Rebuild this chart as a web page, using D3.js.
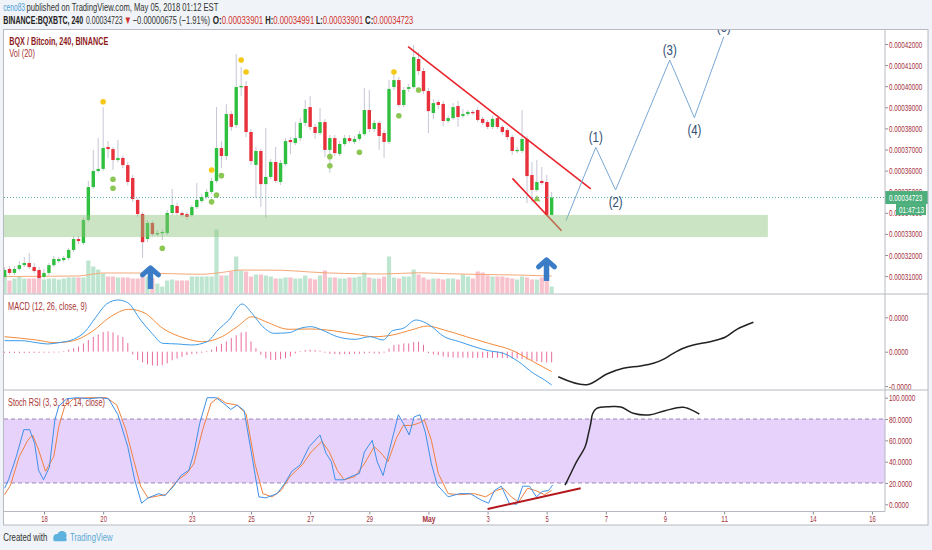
<!DOCTYPE html>
<html>
<head>
<meta charset="utf-8">
<script src="https://cdn.jsdelivr.net/npm/d3@7"></script>
<style>
  body { margin: 0; background: #f0f3f7; overflow: hidden; }
  svg { display: block; font-family: "Liberation Sans", Arial, sans-serif; }
</style>
</head>
<body>
<div id="chart"></div>
<script>
// ---- data (prices in satoshi, 1e-8 BTC) ----
const firstCandle = Date.UTC(2018, 3, 16, 16);   // 4h candles from here
const H4 = 4 * 3600e3;

// [open, high, low, close]
const candles = [
  [30960,31430,30860,31290],[31340,31480,31050,31150],[31150,31480,31050,31340],[31340,31700,31250,31520],
  [31520,31900,31430,31620],[31620,32090,31340,31430],[31430,31620,31150,31240],[31290,31430,30820,30910],
  [30960,31330,30870,31150],[31150,31620,31050,31520],[31520,31950,31430,31810],[31710,31900,31620,31810],
  [31760,31950,31670,31860],[31860,32330,31760,32240],[32240,32900,32140,32760],[32760,32900,32520,32660],
  [32570,33800,32470,33660],[33660,35510,33560,35220],[35220,36980,35130,35980],[35980,37540,35890,36080],
  [36080,39010,35980,37070],[37120,37400,36600,37020],[37020,37120,36030,36500],[36500,37450,36400,36600],
  [36600,36700,36120,36260],[36260,36400,35300,35460],[35650,35800,34510,34650],[34610,34700,33800,33940],
  [33940,34040,31860,32610],[32760,33660,32610,33520],[33520,33620,32900,32990],[32990,33180,32890,33040],
  [33040,33230,32710,33090],[33040,34130,32940,33990],[33990,35130,33890,34370],[34320,34460,33890,33990],
  [33990,34080,33800,33890],[33940,34040,33660,33800],[33890,34370,33800,34270],[34270,35410,34180,34610],
  [34560,34890,34460,34750],[34750,35130,34650,34990],[34990,35650,34890,35510],[35510,39010,35410,37070],
  [37070,37400,36120,36690],[36690,39160,36500,38680],[38680,38820,37880,38070],[38160,41530,38020,39960],
  [39960,40910,39530,40010],[40010,40250,37590,37830],[37830,37970,36270,36450],[36270,37120,34700,36930],
  [36930,37020,34270,35360],[35360,38020,33750,35700],[35700,36550,35600,36410],[36410,37120,35410,35510],
  [35460,36500,35320,36360],[36310,37540,36220,37400],[37450,37590,36780,37350],[37310,38300,37210,37540],
  [37540,38490,37400,38260],[38260,39350,38120,38920],[39010,39540,37920,38070],[38070,38210,37500,37780],
  [37780,38970,37690,38300],[38300,38440,36640,36980],[36980,37690,35890,37540],[37540,37690,36690,36830],
  [36790,37400,36690,37260],[37260,37690,37160,37540],[37540,37690,37310,37400],[37360,37640,37260,37500],
  [37500,37880,37400,37730],[37730,39910,37640,38870],[38870,39820,37830,37970],[37970,38400,37830,38260],
  [38260,38350,36980,37640],[37780,37920,36600,37360],[37360,40290,37260,39870],[39960,40630,39820,40290],
  [40290,40440,39010,39110],[39110,39960,39010,39820],[39870,40100,39720,39960],[39960,41950,39870,41380],
  [41290,41620,40530,40720],[40720,40860,39630,39770],[39770,39910,37780,38820],[38730,39390,38440,39200],
  [39250,39350,38920,39110],[39160,39300,38110,38350],[38350,38630,38260,38490],[38490,39200,38400,39010],
  [39060,39300,38070,38540],[38590,38920,38490,38680],[38680,38870,38590,38780],[38780,38870,38640,38730],
  [38870,39010,38300,38400],[38450,38540,38160,38260],[38300,38400,37970,38070],[38070,38590,37970,38450],
  [38490,38630,37970,38070],[38070,38160,37690,37830],[37920,38020,37450,37590],[37590,37690,36740,36930],
  [36930,37120,36830,36980],[36930,38870,36830,37500],[37500,37640,34460,35740],[35790,36410,34510,35080],
  [35080,36500,34990,35460],[35510,36170,35320,35410],[35460,35790,33850,33901],[33901,34991,33901,34723]
];

// volume, thousands of BQX
const volumes = [
  400,260,300,340,300,300,300,340,280,300,
  300,280,300,320,320,320,320,660,540,480,
  400,340,340,320,320,320,300,300,360,340,
  300,200,140,260,280,260,260,260,340,340,
  340,340,340,1280,360,360,440,740,460,440,
  340,380,380,360,340,300,300,320,320,300,
  300,360,300,280,360,460,320,320,300,300,
  320,320,340,420,320,300,300,340,740,320,
  300,340,340,480,380,320,280,300,300,280,
  300,300,280,380,340,300,440,420,360,340,
  340,340,320,300,280,340,320,280,280,320,320,140
];
// Vol(20) average, read at [candle index, value]
const volumeMA = [[0,340],[8,345],[15,350],[17,375],[20,410],[27,410],[34,395],[40,385],[44,420],[48,470],
  [56,465],[62,430],[66,410],[72,395],[77,390],[84,415],[90,395],[97,380],[104,370],[111,350]];

const lastPrice = 34723;
const priceTicks = [31000,32000,33000,34000,35000,36000,37000,38000,39000,40000,41000,42000];

// fractal dots and signal marks: [candle index, price]
const yellowDots = [[20,39260],[42,36030],[48,41240],[49,40670],[79,40670]];
const greenDots = [[22,35590],[22,35160],[32,32320],[42,34520],[43,34840],[44,35760],[66,36660],[66,36230],
  [72,36870],[80,38600],[84,39820]];
const greenTriangles = [[108,34640]];

// MACD (12, 26, close, 9) in satoshi, read at [candle index, value]
const macdLine = [[0,320],[3.5,320],[6.5,262],[8.7,224],[11,262],[14,360],[16.3,581],[18.5,1000],[20.7,1387],
  [23,1503],[25,1424],[27.6,922],[29.9,535],[32.1,244],[35.2,224],[38,195],[41.1,291],[43.3,631],[45.5,922],
  [48.2,1387],[50.2,1116],[52.4,727],[54.7,535],[57.7,552],[60,680],[62.2,727],[64.4,631],[67.5,436],[71.1,360],
  [74.2,436],[76.8,340],[78.7,610],[80.9,680],[83.5,922],[86.2,776],[89.2,436],[92.3,291],[95.3,145],[98.2,29],
  [101.2,-47],[104.3,-291],[107.3,-628],[109.6,-823],[111,-968]];
const signalLine = [[0,436],[6.5,340],[10.2,262],[14,320],[17.7,581],[21.5,1017],[25.2,1233],[28.3,1134],
  [32.1,680],[36.6,390],[40.2,291],[44.1,436],[47.2,727],[50.2,1017],[53,872],[57.7,651],[62.2,660],[66.7,610],
  [71.1,506],[75,436],[78.7,485],[82.5,631],[85.8,747],[89.2,631],[93.7,436],[98.2,244],[102.8,49],[107.3,-291],
  [111,-581]];
const histogram = [
  -30,-40,-40,-40,-40,-40,-35,-35,-30,-30,-25,-20,
  20,60,100,150,240,340,430,500,570,590,560,480,430,250,
  -80,-240,-310,-370,-400,-410,-390,-340,-250,-200,-150,-100,-70,-50,-30,
  20,60,150,230,300,400,480,560,580,300,100,
  -90,-190,-240,-240,-220,-190,-140,-50,
  20,50,60,50,30,
  -30,-60,-70,-80,-70,-70,-60,-60,-50,-40,-50,-60,-30,
  90,190,210,240,240,280,290,200,
  -40,-80,-100,-140,-160,-170,-175,-170,-175,-180,-180,-175,-180,-180,-175,-180,-185,-200,-200,-210,
  -230,-260,-290,-300,-310,-310
];
const macdTicks = [1000, 0, -1000];

// Stoch RSI (3, 3, 14, 14, close), read at [candle index, value]
const stochK = [[0,15],[0.8,23],[2.4,45],[3.9,70],[5.1,70],[6.1,57],[6.9,32],[7.9,23],[9.1,35],[10.2,79],[11,92],
  [12.6,99],[14.8,100],[17.1,99],[19.3,100],[21.1,99],[23,84],[25,54],[26.4,23],[27.8,1],[29.1,6],[31.3,10],
  [32.5,8],[34.3,17],[35.8,27],[37.4,32],[38.4,48],[39.6,76],[41.1,100],[42.9,100],[44.1,96],[45.9,89],[47.2,93],
  [48.6,88],[50.2,45],[51.6,7],[53,6],[55.3,10],[56.9,20],[58.3,31],[60,37],[61.8,54],[64,65],[65.2,48],[66.3,40],
  [67.1,23],[68.9,23],[70.3,26],[72,29],[73,49],[74.6,60],[75.6,40],[76.8,27],[78.7,62],[79.9,84],[80.9,76],
  [82.1,65],[83.1,82],[84.3,84],[85.4,67],[86.6,38],[87.8,18],[90,7],[92.3,10],[94.5,10],[96.7,4],[98.2,1],
  [99.4,13],[100.8,17],[102.4,1],[103.9,0],[105.1,17],[106.5,17],[107.9,7],[109.1,12],[110.4,13],[111.2,18]];
const stochD = [[0,9],[1.2,18],[3,45],[4.7,60],[5.7,65],[6.9,51],[8.3,31],[10,45],[11,73],[12.2,92],[14,99],
  [17.1,100],[20.7,100],[22.8,93],[24.6,70],[26,45],[27.6,17],[29.1,6],[31.3,8],[32.7,9],[35.2,23],[37,29],
  [38.4,38],[40.2,70],[41.9,95],[43.3,100],[44.9,95],[47.2,93],[49,85],[50.8,38],[52.4,10],[54.3,7],[56.1,13],
  [57.9,26],[60.4,37],[62.2,49],[64.4,59],[65.9,49],[67.5,32],[68.9,23],[71.1,26],[73,38],[75,54],[76.4,48],
  [77.8,40],[79.5,62],[80.9,74],[82.5,74],[84,76],[85.2,79],[86.6,60],[88,29],[90,10],[92.3,9],[95.3,10],
  [97.6,7],[99.8,13],[101.2,15],[102.8,7],[104.3,2],[106.1,15],[107.7,13],[109.6,9],[111,13]];
const stochTicks = [0, 20, 40, 60, 80, 100];
const stochBand = [20, 80];

// drawings: [time, price]
const supportZoneTimes = ["2018-04-15T00:00", "2018-05-12T11:30"];
const supportZonePrices = [33900, 32850];
const upperTrend = [["2018-04-30T07:30",41870],["2018-05-06T11:45",35130]];
const lowerTrend = [["2018-05-03T20:10",35630],["2018-05-05T12:00",33150]];
const wave = [["2018-05-05T15:40",33630],["2018-05-06T15:50",37100],["2018-05-07T07:55",35080],
  ["2018-05-09T03:50",41240],["2018-05-09T23:50",38510],["2018-05-10T23:45",42350]];
const waveLabels = ["(1)", "(2)", "(3)", "(4)", "(5)"];
// arrows: [time, tip price, tail price]
const upArrows = [["2018-04-21T14:25",31480,30390],["2018-05-04T23:50",31860,30770]];
const macdSketch = [["2018-05-05T09:20",-727],["2018-05-06T08:25",-959],["2018-05-07T00:45",-648],
  ["2018-05-07T14:10",-483],["2018-05-08T03:50",-416],["2018-05-08T14:35",-337],["2018-05-08T22:35",-221],
  ["2018-05-09T06:45",-47],["2018-05-09T14:55",99],["2018-05-09T23:00",195],["2018-05-10T12:30",291],
  ["2018-05-11T00:45",419],["2018-05-11T10:20",651],["2018-05-11T23:45",855]];
const stochSketch = [["2018-05-05T14:55",18],["2018-05-05T20:25",31],["2018-05-06T00:15",40],
  ["2018-05-06T07:10",54],["2018-05-06T09:50",66],["2018-05-06T11:45",76],["2018-05-06T13:15",85],
  ["2018-05-06T16:35",90],["2018-05-07T03:20",91.6],["2018-05-07T12:15",91.3],["2018-05-07T22:15",85.4],
  ["2018-05-08T10:30",83.8],["2018-05-09T00:00",87.8],["2018-05-09T14:55",91],["2018-05-10T03:50",84.7]];
const stochTrend = [["2018-05-03T00:00",-4.4],["2018-05-06T03:35",15]];

const dateTicks = ["2018-04-18","2018-04-20","2018-04-23","2018-04-25","2018-04-27","2018-04-29","2018-05-01",
  "2018-05-03","2018-05-05","2018-05-07","2018-05-09","2018-05-11","2018-05-14","2018-05-16"];
const dateLabels = ["18","20","23","25","27","29","May","3","5","7","9","11","14","16"];

// ---- layout ----
const W = 932, H = 550;
const left = 4, axisX = 885, right = 928;
const mainTop = 29.5, mainBottom = 294, macdBottom = 390, stochBottom = 511.5, frameBottom = 525;

const up = "#2fc03f", down = "#e8313c";
const axisText = "#a4303c";

const at = i => new Date(firstCandle + i * H4);
const utc = s => new Date(s + "Z");

const x = d3.scaleUtc().domain([utc("2018-04-18T00:00"), utc("2018-05-16T00:00")]).range([44, 872]);
const price = d3.scaleLinear().domain([31000, 42000]).range([276.1, 44]);
const vol = d3.scaleLinear().domain([0, 1300]).range([293.5, 228.5]);
const macdY = d3.scaleLinear().domain([-1000, 1000]).range([386.1, 317.3]);
const stochY = d3.scaleLinear().domain([0, 100]).range([504.3, 397.7]);

const svg = d3.select("#chart").append("svg").attr("width", W).attr("height", H);

// the reference font is narrow: squeeze each text horizontally to its measured width
function fit(sel, w) {
  const node = sel.node();
  const natural = node.getComputedTextLength();
  const k = Math.min(1, w / natural);
  const x0 = +sel.attr("x") || 0;
  sel.attr("x", 0).attr("transform", `translate(${x0},0) scale(${k},1)`);
  return sel;
}

svg.append("rect").attr("x", left).attr("y", mainTop).attr("width", right - left)
   .attr("height", frameBottom - mainTop).attr("fill", "#fff");

const defs = svg.append("defs");
[["clipMain", mainTop, mainBottom], ["clipMacd", mainBottom, macdBottom], ["clipStoch", macdBottom, stochBottom]]
  .forEach(([id, y0, y1]) => defs.append("clipPath").attr("id", id).append("rect")
    .attr("x", left).attr("y", y0).attr("width", axisX - left).attr("height", y1 - y0));

// ---- main pane ----
const main = svg.append("g").attr("clip-path", "url(#clipMain)");

main.selectAll(".vol").data(volumes).join("rect")
    .attr("x", (d, i) => x(at(i)) - 2.1)
    .attr("y", d => vol(d))
    .attr("width", 4.2)
    .attr("height", d => vol(0) - vol(d))
    .attr("fill", (d, i) => candles[i][3] >= candles[i][0] ? "#bde5cf" : "#f8c2cc");

main.append("path").datum(volumeMA)
    .attr("fill", "none").attr("stroke", "#f3a878").attr("stroke-width", 1)
    .attr("d", d3.line().x(d => x(at(d[0]))).y(d => vol(d[1])).curve(d3.curveMonotoneX));

main.selectAll(".wick").data(candles).join("line")
    .attr("x1", (d, i) => x(at(i))).attr("x2", (d, i) => x(at(i)))
    .attr("y1", d => price(d[1])).attr("y2", d => price(d[2]))
    .attr("stroke", "#c6c6d6").attr("stroke-width", 1);

main.selectAll(".body").data(candles).join("rect")
    .attr("x", (d, i) => x(at(i)) - 1.7)
    .attr("y", d => price(Math.max(d[0], d[3])))
    .attr("width", 3.4)
    .attr("height", d => Math.max(1.3, Math.abs(price(d[0]) - price(d[3]))))
    .attr("fill", d => d[3] >= d[0] ? up : down);

main.selectAll(".ydot").data(yellowDots).join("circle")
    .attr("cx", d => x(at(d[0]))).attr("cy", d => price(d[1])).attr("r", 2.8).attr("fill", "#f5c816");
main.selectAll(".gdot").data(greenDots).join("circle")
    .attr("cx", d => x(at(d[0]))).attr("cy", d => price(d[1])).attr("r", 2.8).attr("fill", "#8cc653");
main.selectAll(".gtri").data(greenTriangles).join("path")
    .attr("transform", d => `translate(${x(at(d[0]))},${price(d[1])})`)
    .attr("d", d3.symbol(d3.symbolTriangle, 22)).attr("fill", "#8cc653");

main.append("line")
    .attr("x1", left).attr("x2", axisX).attr("y1", price(lastPrice)).attr("y2", price(lastPrice))
    .attr("stroke", "#5aaea6").attr("stroke-dasharray", "1,2");

const pt = d3.line().x(d => x(utc(d[0]))).y(d => price(d[1]));
[upperTrend, lowerTrend].forEach(seg => main.append("path").datum(seg)
    .attr("fill", "none").attr("stroke", "#e8242c").attr("stroke-width", 1.6).attr("d", pt));

main.append("path").datum(wave)
    .attr("fill", "none").attr("stroke", "#7aa8d6").attr("stroke-width", 1).attr("d", pt);

main.append("rect")
    .attr("x", x(utc(supportZoneTimes[0])))
    .attr("y", price(supportZonePrices[0]))
    .attr("width", x(utc(supportZoneTimes[1])) - x(utc(supportZoneTimes[0])))
    .attr("height", price(supportZonePrices[1]) - price(supportZonePrices[0]))
    .attr("fill", "#8cc47a").attr("fill-opacity", 0.45);

wave.slice(1).forEach((d, i) => {
  const above = i % 2 === 0;
  fit(main.append("text")
      .attr("x", x(utc(d[0]))).attr("y", price(d[1]) + (above ? -5 : 17))
      .attr("text-anchor", "middle").attr("font-size", 14).attr("fill", "#2f4d70")
      .text(waveLabels[i]), 14);
});

upArrows.forEach(a => {
  const ax = x(utc(a[0])), tip = price(a[1]), tail = price(a[2]);
  const g = main.append("g").attr("stroke", "#3b7cc7").attr("fill", "none").attr("stroke-linecap", "round");
  g.append("line").attr("x1", ax).attr("x2", ax).attr("y1", tip + 3).attr("y2", tail)
   .attr("stroke-width", 5.5).attr("stroke-linecap", "butt");
  g.append("path").attr("d", `M${ax - 8},${tip + 9}L${ax},${tip + 2}L${ax + 8},${tip + 9}`)
   .attr("stroke-width", 5).attr("stroke-linejoin", "round");
});

fit(main.append("text").attr("x", 9.3).attr("y", 45).attr("font-size", 10.5).attr("font-weight", 700)
    .attr("fill", "#8e1b1b").text("BQX / Bitcoin, 240, BINANCE"), 99);
fit(main.append("text").attr("x", 9.3).attr("y", 57).attr("font-size", 10.5)
    .attr("fill", "#a83232").text("Vol (20)"), 25.7);

// ---- MACD pane ----
const macd = svg.append("g").attr("clip-path", "url(#clipMacd)");
macd.selectAll(".hist").data(histogram).join("line")
    .attr("x1", (d, i) => x(at(i))).attr("x2", (d, i) => x(at(i)))
    .attr("y1", macdY(0)).attr("y2", d => macdY(d))
    .attr("stroke", "#ea6c9f").attr("stroke-width", 1);
const ml = d3.line().x(d => x(at(d[0]))).y(d => macdY(d[1])).curve(d3.curveMonotoneX);
macd.append("path").datum(signalLine).attr("fill", "none").attr("stroke", "#f28b3c").attr("stroke-width", 1).attr("d", ml);
macd.append("path").datum(macdLine).attr("fill", "none").attr("stroke", "#3d9be9").attr("stroke-width", 1).attr("d", ml);
macd.append("path").datum(macdSketch).attr("fill", "none").attr("stroke", "#222").attr("stroke-width", 1.5)
    .attr("d", d3.line().x(d => x(utc(d[0]))).y(d => macdY(d[1])).curve(d3.curveCatmullRom));
fit(macd.append("text").attr("x", 8.1).attr("y", 310).attr("font-size", 10.5)
    .attr("fill", "#a83232").text("MACD (12, 26, close, 9)"), 79);

// ---- Stoch RSI pane ----
const stoch = svg.append("g").attr("clip-path", "url(#clipStoch)");
stoch.append("rect").attr("x", left).attr("width", axisX - left)
    .attr("y", stochY(stochBand[1])).attr("height", stochY(stochBand[0]) - stochY(stochBand[1]))
    .attr("fill", "#e6d2fb");
stoch.selectAll(".band").data(stochBand).join("line")
    .attr("x1", left).attr("x2", axisX).attr("y1", d => stochY(d)).attr("y2", d => stochY(d))
    .attr("stroke", "#9d86b9").attr("stroke-dasharray", "4,3");
fit(stoch.append("text").attr("x", 8.1).attr("y", 406).attr("font-size", 10.5)
    .attr("fill", "#a83232").text("Stoch RSI (3, 3, 14, 14, close)"), 97);
const sl = d3.line().x(d => x(at(d[0]))).y(d => stochY(d[1]));
stoch.append("path").datum(stochD).attr("fill", "none").attr("stroke", "#f0803f").attr("stroke-width", 1).attr("d", sl);
stoch.append("path").datum(stochK).attr("fill", "none").attr("stroke", "#3f8fe6").attr("stroke-width", 1).attr("d", sl);
stoch.append("path").datum(stochTrend).attr("fill", "none").attr("stroke", "#b3181e").attr("stroke-width", 2)
    .attr("d", d3.line().x(d => x(utc(d[0]))).y(d => stochY(d[1])));
stoch.append("path").datum(stochSketch).attr("fill", "none").attr("stroke", "#222").attr("stroke-width", 1.5)
    .attr("d", d3.line().x(d => x(utc(d[0]))).y(d => stochY(d[1])).curve(d3.curveCatmullRom));

// ---- axes ----
function styleAxis(g, widthOf) {
  g.select(".domain").remove();
  g.selectAll(".tick line").attr("stroke", "#8a8f99");
  g.selectAll(".tick text").attr("fill", axisText).attr("font-size", 9.5)
   .attr("font-family", "Liberation Sans, Arial, sans-serif")
   .each(function () { fit(d3.select(this), widthOf(this.textContent)); });
}
const priceAxis = svg.append("g").attr("transform", `translate(${axisX},0)`)
    .call(d3.axisRight(price).tickValues(priceTicks).tickSize(3).tickPadding(1)
      .tickFormat(d => (d * 1e-8).toFixed(8)));
styleAxis(priceAxis, s => s.length * 3.34);
const macdAxis = svg.append("g").attr("transform", `translate(${axisX},0)`)
    .call(d3.axisRight(macdY).tickValues(macdTicks).tickSize(3).tickPadding(1)
      .tickFormat(d => (d * 1e-8).toFixed(4)));
styleAxis(macdAxis, s => s.length * 3.2);
const stochAxis = svg.append("g").attr("transform", `translate(${axisX},0)`)
    .call(d3.axisRight(stochY).tickValues(stochTicks).tickSize(3).tickPadding(1)
      .tickFormat(d => d.toFixed(4)));
styleAxis(stochAxis, s => s.length * 3.3);
const timeAxis = svg.append("g").attr("transform", `translate(0,${stochBottom})`)
    .call(d3.axisBottom(x).tickValues(dateTicks.map(utc)).tickSize(3).tickPadding(1)
      .tickFormat((d, i) => dateLabels[i]));
timeAxis.selectAll(".tick text").filter(function () { return this.textContent === "May"; })
    .attr("font-weight", 700);
styleAxis(timeAxis, s => s === "May" ? 13 : s.length * 3.3);

// last price and countdown labels
const ly = price(lastPrice);
svg.append("rect").attr("x", axisX).attr("y", ly - 6.5).attr("width", right - axisX).attr("height", 13)
   .attr("fill", "#4caf7c");
fit(svg.append("text").attr("x", 889).attr("y", ly + 3.3).attr("font-size", 9.5).attr("fill", "#fff")
   .text((lastPrice * 1e-8).toFixed(8)), 33.4);
svg.append("rect").attr("x", 896).attr("y", ly + 6.5).attr("width", 30).attr("height", 11)
   .attr("fill", "#4caf7c");
fit(svg.append("text").attr("x", 899).attr("y", ly + 15).attr("font-size", 9.5).attr("fill", "#fff")
   .text("01:47:13"), 25);

// ---- frame and separators ----
const frame = svg.append("g").attr("stroke", "#b7bac2").attr("fill", "none");
frame.append("rect").attr("x", left - 0.5).attr("y", mainTop).attr("width", right - left + 0.5)
     .attr("height", frameBottom - mainTop);
[mainBottom, macdBottom].forEach(y => frame.append("line")
     .attr("x1", left).attr("x2", right).attr("y1", y).attr("y2", y));
frame.append("line").attr("x1", left).attr("x2", axisX).attr("y1", stochBottom).attr("y2", stochBottom);
frame.append("line").attr("x1", axisX).attr("x2", axisX).attr("y1", mainTop).attr("y2", stochBottom);

// ---- header and footer ----
const header = [
  ["ceno83", 3.3, 21.7, "#4a9fd8", 400, 11],
  ["published on TradingView.com, May 05, 2018 01:12 EST", 26.5, 192, "#333", 400, 11],
  ["BINANCE:BQXBTC, 240", 3.3, 80, "#222", 700, 24],
  ["0.00034723", 86, 36.7, "#333", 400, 24],
  ["▼", 124, 7.7, "#d0312d", 400, 24],
  ["−0.00000675 (−1.91%)", 132.7, 77.3, "#333", 400, 24],
  ["O:", 212.7, 9, "#222", 700, 24],
  ["0.00033901", 221.7, 41.6, "#d0312d", 400, 24],
  ["H:", 265.3, 8, "#222", 700, 24],
  ["0.00034991", 273.3, 41, "#d0312d", 400, 24],
  ["L:", 316, 6.7, "#222", 700, 24],
  ["0.00033901", 322.7, 40.6, "#d0312d", 400, 24],
  ["C:", 365, 8.3, "#222", 700, 24],
  ["0.00034723", 373.3, 40, "#d0312d", 400, 24]
];
header.forEach(([t, hx, w, c, fw, hy]) => fit(svg.append("text").attr("x", hx).attr("y", hy)
  .attr("font-size", 11.5).attr("font-weight", fw).attr("fill", c).text(t), w));

fit(svg.append("text").attr("x", 3.3).attr("y", 541.5).attr("font-size", 11.5).attr("fill", "#333")
   .text("Created with"), 44);
const logo = svg.append("g").attr("fill", "#5cb1df");
logo.append("circle").attr("cx", 57).attr("cy", 537.5).attr("r", 3.6);
logo.append("circle").attr("cx", 62).attr("cy", 535.6).attr("r", 4.6);
logo.append("rect").attr("x", 53.4).attr("y", 537.5).attr("width", 13.3).attr("height", 3.8).attr("rx", 1.5);
fit(svg.append("text").attr("x", 70).attr("y", 541.5).attr("font-size", 11.5).attr("fill", "#5aa9d6")
   .text("TradingView"), 42.7);
</script>
</body>
</html>
